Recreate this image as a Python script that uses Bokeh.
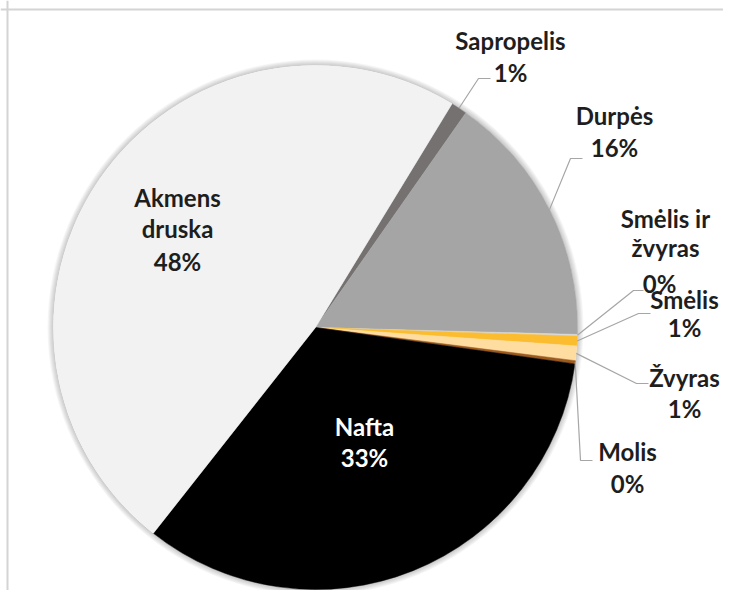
import math
from bokeh.plotting import figure
from bokeh.models import Range1d, Span
from bokeh.core.properties import value
from bokeh.embed import file_html
from bokeh.resources import INLINE

# ---- data (order clockwise, starting at the Sapropelis slice) ----
categories = ["Sapropelis", "Durpės", "Smėlis ir žvyras", "Smėlis", "Žvyras", "Molis", "Nafta", "Akmens druska"]
shares = [1.0, 15.7, 0.1, 0.6, 0.9, 0.2, 33.4, 48.1]
label_lines = [["Sapropelis"], ["Durpės"], ["Smėlis ir", "žvyras"], ["Smėlis"], ["Žvyras"], ["Molis"], ["Nafta"], ["Akmens", "druska"]]

# ---- style / layout ----
colors = ["#767171", "#a5a5a5", "#d9d9d9", "#fbbd2f", "#ffdca0", "#9c5a1f", "#000000", "#f2f2f2"]
text_colors = ["#1e1e1e"] * 6 + ["#ffffff", "#1e1e1e"]
START = 31.4          # clockwise degrees from 12 o'clock
CX, CY, R = 315, 327, 262   # image pixel coordinates
IMG_H = 606
W, H = 723, 590
# per label: x centre, y centre of each text line (image px), leader elbow (x0,y,x1) or None
layout = [
    (510, [40, 72], (478, 78, 490)),
    (614, [115, 147], (570, 158, 582)),
    (665, [218, 247, 283], (633, 290, 643)),
    (684, [299, 327], (638, 313, 650)),
    (684, [377, 408], (636, 383, 648)),
    (627, [451, 483], None),
    (364, [426, 457], None),
    (177, [197, 228, 261], None),
]

def Y(img_y):
    return IMG_H - img_y

p = figure(width=W, height=H, output_backend="svg", toolbar_location=None,
           x_range=Range1d(0, W), y_range=Range1d(Y(H), Y(0)), min_border=0)
p.axis.visible = False
p.grid.visible = False
p.outline_line_color = None
p.background_fill_color = "white"

# frame of the chart area
p.add_layout(Span(location=7, dimension="height", line_color="#d4d4d4", line_width=2))
p.add_layout(Span(location=Y(9), dimension="width", line_color="#d4d4d4", line_width=2))

# soft shadow
for k in range(1, 7):
    p.annulus(x=CX, y=Y(CY), inner_radius=R, outer_radius=R + k, fill_color="#000000",
              fill_alpha=0.035, line_color=None)

total = sum(shares)
ang = START
starts, ends, mids = [], [], []
for s in shares:
    a0 = ang
    a1 = ang + 360.0 * s / total
    starts.append(math.radians(90 - a0))
    ends.append(math.radians(90 - a1))
    mids.append((a0 + a1) / 2)
    ang = a1

p.wedge(x=[CX] * len(shares), y=[Y(CY)] * len(shares), radius=R,
        start_angle=starts, end_angle=ends, direction="clock",
        fill_color=colors, line_color=colors, line_width=0.5)

font = value("Lato")
for i, cat in enumerate(categories):
    pct = f"{round(100 * shares[i] / total)}%"
    lines = label_lines[i] + [pct]
    x, ys, leader = layout[i]
    for j, (t, yy) in enumerate(zip(lines, ys)):
        xx = x
        if cat == "Smėlis ir žvyras" and j == 2:
            xx = x - 6
        p.text(x=[xx], y=[Y(yy)], text=[t], text_font=font, text_font_style="bold",
               text_font_size="24px", text_color=text_colors[i],
               text_align="center", text_baseline="middle")
    # leader lines
    m = math.radians(mids[i])
    sx = CX + R * math.sin(m)
    sy = CY - R * math.cos(m)
    if leader is not None:
        ex, ey, hx = leader
        p.line(x=[sx, ex, hx], y=[Y(sy), Y(ey), Y(ey)], line_color="#a6a6a6", line_width=1.2)
    elif cat == "Molis":
        p.line(x=[sx, 580, 592], y=[Y(sy), Y(460), Y(460)], line_color="#a6a6a6", line_width=1.2)

open("out.html", "w").write(file_html(p, INLINE))
